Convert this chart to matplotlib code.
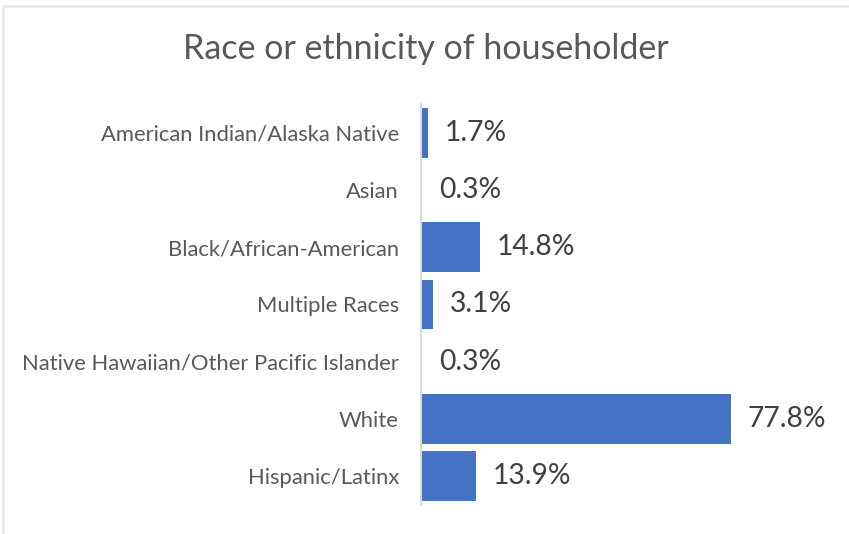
import matplotlib
matplotlib.use("Agg")
import matplotlib.pyplot as plt
from matplotlib.lines import Line2D

# data
categories = ["American Indian/Alaska Native", "Asian", "Black/African-American",
              "Multiple Races", "Native Hawaiian/Other Pacific Islander", "White",
              "Hispanic/Latinx"]
shares = [1.7, 0.3, 14.8, 3.1, 0.3, 77.8, 13.9]
value_labels = ["1.7%", "0.3%", "14.8%", "3.1%", "0.3%", "77.8%", "13.9%"]
title = "Race or ethnicity of householder"

plt.rcParams["font.family"] = ["Lato", "DejaVu Sans"]

fig = plt.figure(figsize=(8.49, 5.34), dpi=100)
ax = fig.add_axes([0.496, 0.0543, 0.3755, 0.751])

pos = list(range(len(categories)))
ax.barh(pos, shares, height=0.87, color="#4472C4")
ax.set_ylim(len(categories) - 0.5, -0.5)
ax.set_xlim(0, 80)

ax.set_yticks(pos)
ax.set_yticklabels(categories, fontsize=15.8, color="#595959")
ax.tick_params(axis="y", length=0, pad=16)
ax.set_xticks([])

for i, v in enumerate(shares):
    ax.annotate(value_labels[i], (v, i), xytext=(12, 0), textcoords="offset points",
                va="center", ha="left", fontsize=20.3, color="#404040",
                annotation_clip=False)

for s in ["top", "right", "bottom"]:
    ax.spines[s].set_visible(False)
ax.spines["left"].set_color("#D9D9D9")
ax.spines["left"].set_linewidth(1.5)

fig.text(426 / 849, 1 - 49 / 534, title, ha="center", va="center",
         fontsize=24.5, color="#595959")

# faint frame of the chart area, top and left edges
fig.add_artist(Line2D([2.5 / 849, 2.5 / 849, 1], [0, 1 - 6 / 534, 1 - 6 / 534],
                      transform=fig.transFigure, color="#E8E8E8", lw=1.8))

fig.savefig("out.png", dpi=100)
